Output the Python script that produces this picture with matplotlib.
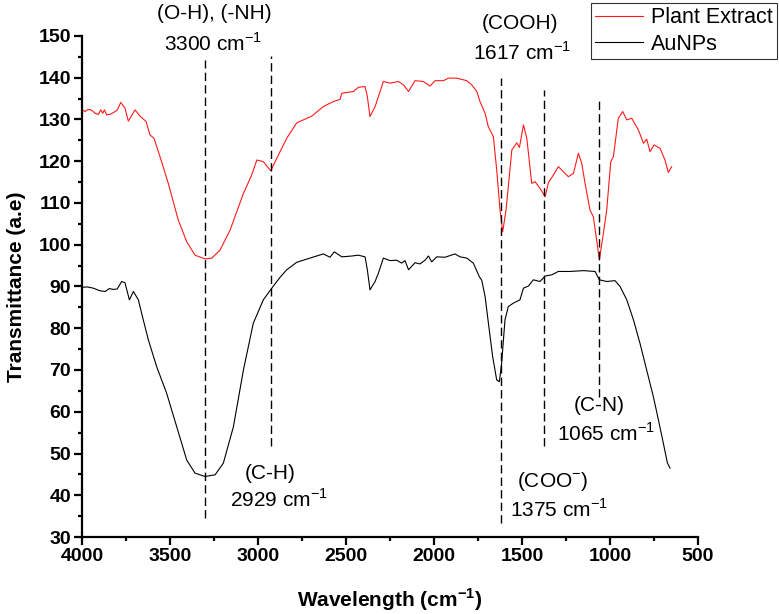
import matplotlib
matplotlib.use('Agg')
import matplotlib.pyplot as plt
from matplotlib.ticker import MultipleLocator

plt.rcParams['font.family'] = ['Liberation Sans', 'DejaVu Sans']
plt.rcParams['mathtext.fontset'] = 'custom'
plt.rcParams['mathtext.rm'] = 'Liberation Sans'
plt.rcParams['mathtext.bf'] = 'Liberation Sans:bold'

# Plant extract spectrum (wavenumber, transmittance)
plant_wn = [3996, 3983, 3970, 3955, 3939, 3926, 3907, 3894, 3882, 3873, 3860, 3837,
            3812, 3799, 3780, 3756, 3737, 3699, 3670, 3636, 3614, 3591, 3557, 3510,
            3453, 3405, 3358, 3301, 3263, 3216, 3159, 3083, 3036, 3007, 2970, 2928,
            2875, 2837, 2780, 2695, 2629, 2572, 2534, 2524, 2458, 2430, 2392, 2379,
            2364, 2335, 2316, 2288, 2250, 2203, 2174, 2145, 2108, 2061, 2023, 1994,
            1947, 1919, 1871, 1814, 1786, 1757, 1739, 1710, 1692, 1663, 1644, 1625,
            1610, 1591, 1558, 1530, 1515, 1492, 1473, 1445, 1426, 1398, 1369, 1350,
            1322, 1294, 1237, 1208, 1180, 1161, 1142, 1114, 1095, 1076, 1061, 1038,
            1019, 996, 981, 953, 928, 905, 877, 839, 810, 792, 773, 750, 716, 688,
            669, 650]
plant_t = [132.3, 131.9, 132.3, 132.4, 132.0, 131.5, 131.2, 132.3, 131.5, 132.3, 131.1, 131.3,
           131.9, 132.3, 134.1, 132.7, 129.6, 132.3, 130.8, 129.5, 126.3, 125.5, 121.1, 114.7,
           105.9, 100.7, 97.5, 96.6, 96.8, 98.7, 103.5, 112.3, 116.7, 120.3, 119.9, 117.7,
           122.3, 125.5, 129.2, 130.8, 133.1, 134.3, 134.8, 136.3, 136.7, 137.7, 137.9, 135.5,
           130.7, 133.1, 135.5, 139.1, 138.7, 139.1, 138.3, 136.7, 139.3, 139.1, 138.0, 139.3,
           139.3, 139.9, 139.9, 139.3, 138.3, 136.7, 134.3, 131.5, 128.3, 125.9, 117.9, 108.3,
           103.1, 108.3, 122.7, 124.4, 123.3, 128.7, 125.5, 114.7, 115.1, 113.5, 111.5, 114.9,
           116.7, 118.7, 116.3, 117.1, 121.9, 119.5, 114.7, 108.3, 106.7, 101.1, 96.3, 102.7,
           108.3, 119.9, 121.1, 130.3, 131.9, 129.9, 130.3, 127.5, 124.3, 125.3, 122.3, 123.9,
           123.1, 120.3, 117.3, 118.7]

# AuNPs spectrum
au_wn = [4000, 3970, 3936, 3900, 3869, 3845, 3822, 3800, 3775, 3756, 3731, 3708, 3680,
         3652, 3623, 3576, 3519, 3462, 3405, 3358, 3301, 3244, 3197, 3140, 3083, 3027,
         2970, 2922, 2875, 2837, 2780, 2705, 2629, 2591, 2567, 2524, 2468, 2430, 2392,
         2379, 2364, 2335, 2316, 2288, 2250, 2212, 2184, 2165, 2145, 2108, 2080, 2051,
         2032, 2013, 1985, 1938, 1881, 1852, 1814, 1777, 1742, 1729, 1710, 1692, 1667,
         1644, 1629, 1616, 1597, 1578, 1550, 1512, 1492, 1464, 1436, 1398, 1369, 1331,
         1294, 1227, 1152, 1085, 1061, 1019, 972, 943, 905, 867, 830, 792, 754, 725,
         697, 674, 659]
au_t = [89.8, 89.9, 89.6, 89.0, 88.8, 89.5, 89.3, 89.4, 91.2, 90.9, 86.8, 88.8, 86.8,
        82.0, 77.2, 70.8, 64.4, 56.4, 48.4, 45.3, 44.5, 44.9, 47.7, 56.4, 70.0, 81.2,
        86.8, 89.6, 92.2, 94.0, 95.8, 96.8, 97.8, 97.0, 98.3, 97.1, 97.3, 97.5, 97.1,
        94.0, 89.2, 91.2, 93.2, 96.8, 96.2, 96.3, 95.6, 96.2, 94.0, 95.7, 95.4, 96.3,
        97.3, 95.9, 97.1, 97.0, 97.8, 97.1, 96.8, 95.6, 92.3, 91.5, 87.6, 81.5, 73.2,
        67.6, 67.2, 71.6, 82.0, 85.2, 86.0, 86.8, 89.6, 90.1, 91.6, 91.2, 92.5, 92.8,
        93.6, 93.6, 93.8, 93.6, 91.6, 91.2, 91.4, 90.0, 86.8, 82.0, 76.4, 70.0, 63.6, 58.0,
        52.4, 47.7, 46.5]

# Marker lines: position, top, bottom
mark_wn = [3300, 2929, 1617, 1375, 1065]
mark_top = [144.3, 145.2, 139.9, 137.1, 135.2]
mark_bot = [34.5, 51.9, 33.4, 51.9, 63.6]

# Annotations: (x, y, text)
labels = [
    (3250, 155.5, '(O-H), (-NH)'),
    (3255, 148.3, '3300 cm$^{\\mathregular{-1}}$'),
    (1511, 153.1, '(COOH)'),
    (1500, 146.0, '1617 cm$^{\\mathregular{-1}}$'),
    (2929, 45.3, '(C-H)'),
    (2880, 38.9, '2929 cm$^{\\mathregular{-1}}$'),
    (1325, 43.2, '(COO$^{\\mathregular{-}}$)'),
    (1290, 36.5, '1375 cm$^{\\mathregular{-1}}$'),
    (1060, 61.6, '(C-N)'),
    (1020, 54.9, '1065 cm$^{\\mathregular{-1}}$'),
]

fig = plt.figure(figsize=(7.79, 6.14), dpi=100)
ax = fig.add_axes([0.1053, 0.1254, 0.7908, 0.816])

ax.plot(plant_wn, plant_t, color='#ff1a1a', lw=0.8, label='Plant Extract')
ax.plot(au_wn, au_t, color='black', lw=0.8, label='AuNPs')

for x, t, b in zip(mark_wn, mark_top, mark_bot):
    ax.plot([x, x], [b, t], color='black', lw=1.0, linestyle=(0, (6, 3)))

for x, y, s in labels:
    ax.text(x, y, s, ha='center', va='center', fontsize=15, clip_on=False)

ax.set_xlim(4000, 500)
ax.set_ylim(30, 150)
ax.xaxis.set_major_locator(MultipleLocator(500))
ax.xaxis.set_minor_locator(MultipleLocator(250))
ax.yaxis.set_major_locator(MultipleLocator(10))
ax.yaxis.set_minor_locator(MultipleLocator(5))

for side in ['top', 'right']:
    ax.spines[side].set_visible(False)
for side in ['left', 'bottom']:
    ax.spines[side].set_linewidth(1.6)

ax.tick_params(which='major', direction='out', length=6, width=1.6, pad=2, labelsize=14)
ax.tick_params(which='minor', direction='out', length=3, width=1.6)
for lab in ax.get_xticklabels() + ax.get_yticklabels():
    lab.set_fontweight('bold')

ax.set_xlabel('Wavelength (cm$^{\\mathregular{-1}}$)', fontsize=15, fontweight='bold')
ax.set_ylabel('Transmittance (a.e)', fontsize=15, fontweight='bold')
ax.xaxis.set_label_coords(0.5, -0.098)
ax.yaxis.set_label_coords(-0.091, 0.5)

leg = fig.legend(loc='upper right', bbox_to_anchor=(0.998, 0.995), fontsize=15.5,
                 frameon=True, fancybox=False, handlelength=2.2, labelspacing=0.25,
                 borderpad=0.2, handletextpad=0.4, borderaxespad=0)
leg.get_frame().set_edgecolor('black')
leg.get_frame().set_linewidth(0.8)

fig.savefig('out.png', dpi=100)
